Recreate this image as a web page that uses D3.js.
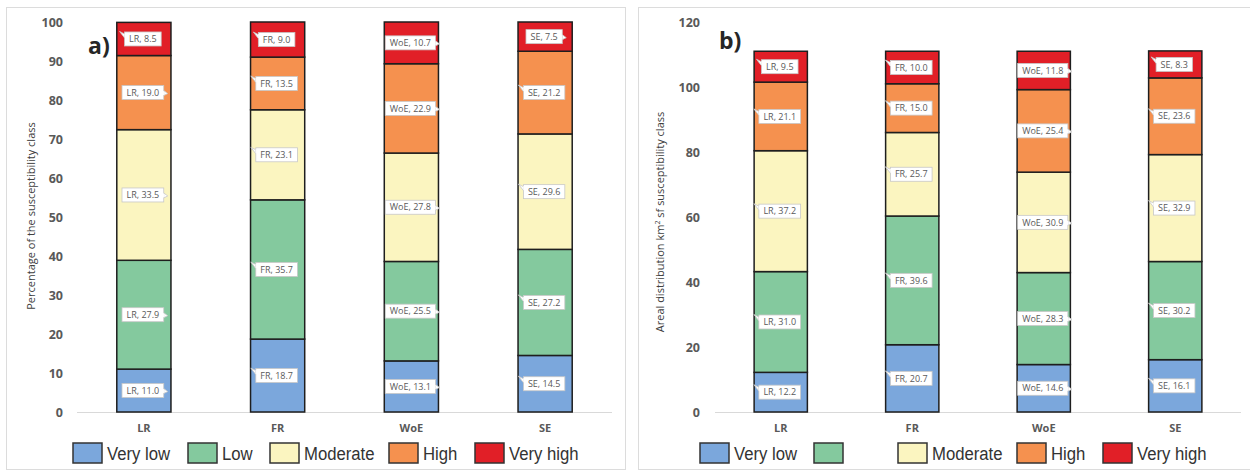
<!DOCTYPE html>
<html>
<head>
<meta charset="utf-8">
<script src="https://cdn.jsdelivr.net/npm/d3@7"></script>
<style>
  html, body { margin: 0; padding: 0; background: #ffffff; }
  svg { display: block; }
</style>
</head>
<body>
<svg id="chart" width="1250" height="472"></svg>
<script>
// ---------------- DATA ----------------
const categories = ["LR", "FR", "WoE", "SE"];
const classes = ["Very low", "Low", "Moderate", "High", "Very high"];

// Panel a) percentage of the susceptibility class
const pctVeryLow  = [11.0, 18.7, 13.1, 14.5];
const pctLow      = [27.9, 35.7, 25.5, 27.2];
const pctModerate = [33.5, 23.1, 27.8, 29.6];
const pctHigh     = [19.0, 13.5, 22.9, 21.2];
const pctVeryHigh = [8.5, 9.0, 10.7, 7.5];

// Panel b) areal distribution km² of susceptibility class
const areaVeryLow  = [12.2, 20.7, 14.6, 16.1];
const areaLow      = [31.0, 39.6, 28.3, 30.2];
const areaModerate = [37.2, 25.7, 30.9, 32.9];
const areaHigh     = [21.1, 15.0, 25.4, 23.6];
const areaVeryHigh = [9.5, 10.0, 11.8, 8.3];

const ticksA = [0, 10, 20, 30, 40, 50, 60, 70, 80, 90, 100];
const ticksB = [0, 20, 40, 60, 80, 100, 120];

const legendLabelsA = ["Very low", "Low", "Moderate", "High", "Very high"];
const legendLabelsB = ["Very low", "", "Moderate", "High", "Very high"];

// ---------------- STYLE ----------------
const colors = ["#7ba7dc", "#84c99e", "#fbf5c0", "#f5914f", "#e11f27"];
const svg = d3.select("#chart");

// frames
svg.append("rect").attr("x", 6.5).attr("y", 7.5).attr("width", 619).attr("height", 462)
  .attr("fill", "#ffffff").attr("stroke", "#dcdcdc");
svg.append("rect").attr("x", 638.5).attr("y", 7.5).attr("width", 620).attr("height", 462)
  .attr("fill", "#ffffff").attr("stroke", "#dcdcdc");

// tail sides for labels (style): per category, per class (bottom->top)
const tailsA = [
  ["right", "right", "right", "right", "left"],
  ["left", "left", "left", "left", "left"],
  ["right", "right", "right", "right", "right"],
  ["left", "left", "left", "left", "right"]
];
const tailsB = [
  ["left", "left", "left", "left", "left"],
  ["left", "left", "left", "left", "left"],
  ["right", "right", "right", "right", "right"],
  ["left", "left", "left", "left", "left"]
];

function drawPanel(cfg) {
  const g = svg.append("g");
  const x = d3.scaleBand().domain(categories).range(cfg.xRange).paddingInner(0.595).paddingOuter(0.2975);
  const y = d3.scaleLinear().domain(cfg.yDomain).range([412, 22]);

  // stacked data
  const rows = categories.map((c, i) => {
    const r = { cat: c };
    cfg.series.forEach((s, k) => r[classes[k]] = s[i]);
    return r;
  });
  const stack = d3.stack().keys(classes)(rows);

  // baseline
  g.append("line").attr("x1", cfg.xRange[0]).attr("x2", cfg.xRange[1])
    .attr("y1", y(0) + 0.5).attr("y2", y(0) + 0.5)
    .attr("stroke", "#d9d9d9").attr("stroke-width", 1);

  // y axis
  const yAxis = d3.axisLeft(y).tickValues(cfg.ticks).tickSize(0).tickPadding(0).tickFormat(d3.format("d"));
  const ya = g.append("g").attr("transform", `translate(${cfg.tickX},0)`).call(yAxis);
  ya.select(".domain").remove();
  ya.selectAll("text").attr("font-family", "Open Sans, sans-serif").attr("font-size", 12.5)
    .attr("font-weight", "bold").attr("fill", "#595959");

  // x axis labels
  const xAxis = d3.axisBottom(x).tickSize(0).tickPadding(0);
  const xa = g.append("g").attr("transform", `translate(0,${y(0) + 12})`).call(xAxis);
  xa.select(".domain").remove();
  xa.selectAll("text").attr("font-family", "Open Sans, sans-serif").attr("font-size", 11)
    .attr("font-weight", "bold").attr("fill", "#595959");

  // bars
  stack.forEach((layer, k) => {
    g.append("g").selectAll("rect").data(layer).join("rect")
      .attr("x", d => x(d.data.cat))
      .attr("y", d => y(d[1]))
      .attr("width", x.bandwidth())
      .attr("height", d => y(d[0]) - y(d[1]))
      .attr("fill", colors[k])
      .attr("stroke", "#1e1e1e").attr("stroke-width", 1.5);
  });

  // labels
  stack.forEach((layer, k) => {
    layer.forEach((d, i) => {
      const cx = x(d.data.cat) + x.bandwidth() / 2 - 1;
      const cy = y((d[0] + d[1]) / 2);
      const lg = g.append("g");
      const txt = lg.append("text").attr("x", cx).attr("y", cy + 3.2)
        .attr("text-anchor", "middle")
        .attr("font-family", "Open Sans, sans-serif").attr("font-size", 9)
        .attr("fill", "#595959")
        .text(`${d.data.cat}, ${d.data[classes[k]].toFixed(1)}`);
      const w = txt.node().getComputedTextLength() + 9;
      const h = 14;
      const bx = cx - w / 2, by = cy - h / 2;
      const side = cfg.tails[i][k];
      let tail;
      if (side === "left") {
        tail = `M${bx},${by + 2} L${bx - 5},${by - 0.5} L${bx},${by + 6}`;
      } else {
        tail = `M${bx + w},${by + 5} L${bx + w + 4},${by + 8} L${bx + w},${by + 10}`;
      }
      lg.insert("path", "text").attr("d", tail).attr("fill", "#ffffff").attr("stroke", "#c8c8c8").attr("stroke-width", 0.8);
      lg.insert("rect", "text").attr("x", bx).attr("y", by).attr("width", w).attr("height", h)
        .attr("fill", "#ffffff").attr("stroke", "#c8c8c8").attr("stroke-width", 0.8);
      lg.insert("rect", "text").attr("x", side === "left" ? bx - 0.2 : bx + w - 1).attr("y", side === "left" ? by + 1.5 : by + 5.5)
        .attr("width", 1.2).attr("height", 4).attr("fill", "#ffffff");
    });
  });

  // panel letter
  g.append("text").attr("x", cfg.letterPos[0]).attr("y", cfg.letterPos[1])
    .attr("font-family", "Open Sans, sans-serif").attr("font-size", 23).attr("font-weight", "bold")
    .attr("fill", "#262626").text(cfg.letter);

  // y title
  const yt = g.append("text")
    .attr("transform", `translate(${cfg.titleX},${cfg.titleY}) rotate(-90)`)
    .attr("text-anchor", "middle")
    .attr("font-family", "Open Sans, sans-serif").attr("font-size", 11)
    .attr("fill", "#404040");
  cfg.title.forEach(part => {
    const ts = yt.append("tspan").text(part.t);
    if (part.sup) ts.attr("font-size", 7).attr("dy", -4);
    if (part.after) ts.attr("dy", 4);
  });

  // legend
  const lg = g.append("g");
  cfg.legendLabels.forEach((lab, k) => {
    const sx = cfg.legendX[k];
    lg.append("rect").attr("x", sx).attr("y", 443).attr("width", 29).attr("height", 20)
      .attr("fill", colors[k]).attr("stroke", "#333333").attr("stroke-width", 1.5);
    if (lab) {
      lg.append("text")
        .attr("transform", `translate(${sx + 34},460) scale(0.88,1)`)
        .attr("font-family", "Liberation Sans, Arial, sans-serif")
        .attr("font-size", 19).attr("fill", "#333333").text(lab);
    }
  });
}

drawPanel({
  series: [pctVeryLow, pctLow, pctModerate, pctHigh, pctVeryHigh],
  xRange: [77, 612],
  yDomain: [0, 100],
  ticks: ticksA,
  tickX: 63,
  tails: tailsA,
  letter: "a)",
  letterPos: [88, 54],
  title: [{ t: "Percentage of the susceptibility class" }],
  titleX: 35, titleY: 216,
  legendLabels: legendLabelsA,
  legendX: [73, 188, 270, 389, 475]
});

drawPanel({
  series: [areaVeryLow, areaLow, areaModerate, areaHigh, areaVeryHigh],
  xRange: [715, 1241],
  yDomain: [0, 120],
  ticks: ticksB,
  tickX: 700,
  tails: tailsB,
  letter: "b)",
  letterPos: [719, 49],
  title: [{ t: "Areal distribution km" }, { t: "2", sup: true }, { t: " sf susceptibility class", after: true }],
  titleX: 664, titleY: 222,
  legendLabels: legendLabelsB,
  legendX: [700, 814, 898, 1017, 1103]
});
</script>
</body>
</html>
